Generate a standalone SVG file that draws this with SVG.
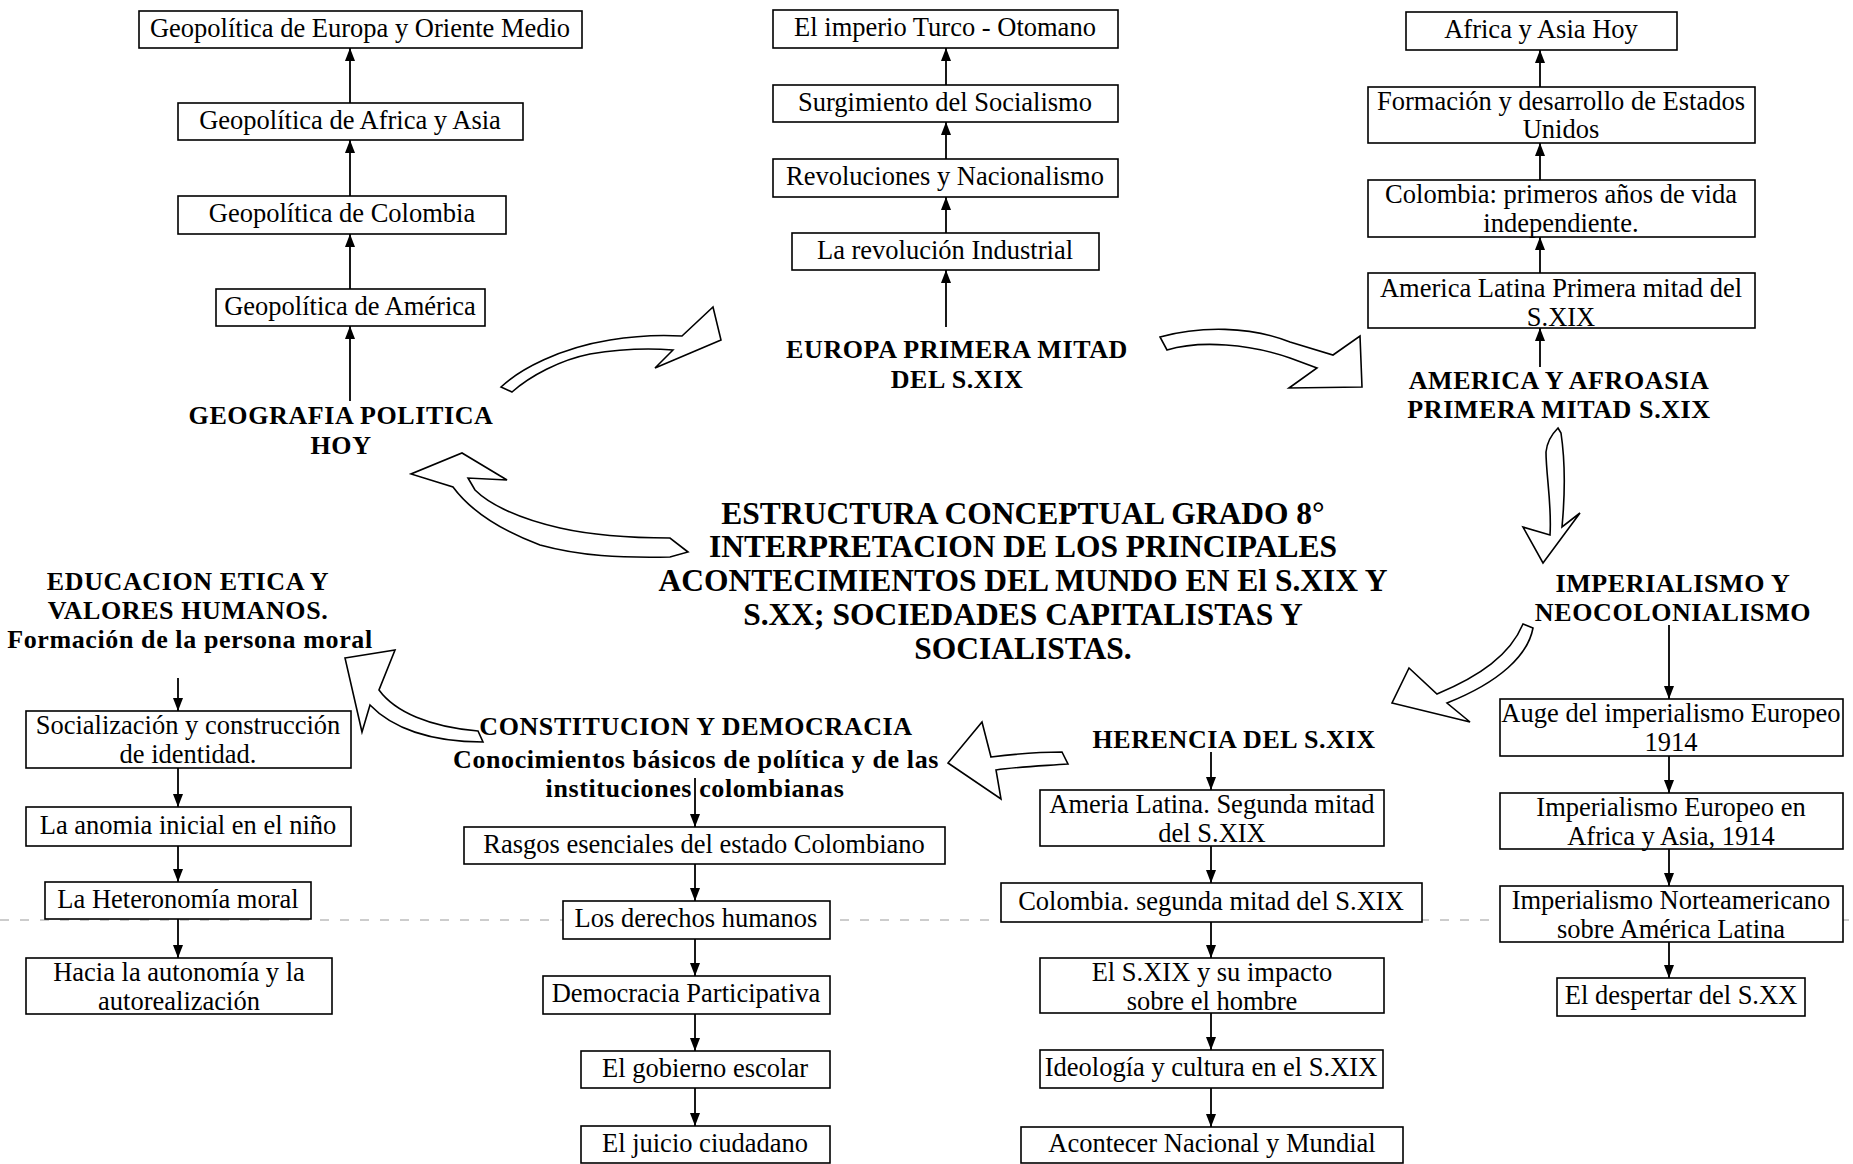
<svg xmlns="http://www.w3.org/2000/svg" width="1853" height="1164" viewBox="0 0 1853 1164">
<defs>
<style>
.box{fill:#fff;stroke:#000;stroke-width:1.6}
.t{font-family:"Liberation Serif","Times New Roman",serif;font-size:26.5px;text-anchor:middle;fill:#000}
.h{font-family:"Liberation Serif","Times New Roman",serif;font-size:26px;font-weight:bold;text-anchor:middle;fill:#000;letter-spacing:0.6px}
.ti{font-family:"Liberation Serif","Times New Roman",serif;font-size:31.5px;font-weight:bold;text-anchor:middle;fill:#000}
.c{stroke:#000;stroke-width:1.8;fill:none;marker-end:url(#ah)}
.blk{fill:#fff;stroke:#000;stroke-width:1.6;stroke-linejoin:miter}
.scan{stroke:#9a9a9a;stroke-width:1;stroke-dasharray:9 11;fill:none}
</style>
<marker id="ah" viewBox="0 0 13 10" refX="13" refY="5" markerWidth="13" markerHeight="10" markerUnits="userSpaceOnUse" orient="auto"><path d="M0,0 L13,5 L0,10 Z" fill="#000"/></marker>
</defs>
<rect width="1853" height="1164" fill="#fff"/>
<line class="scan" x1="0" y1="920" x2="1853" y2="920"/>

<!-- Title -->
<g id="title">
<text class="ti" x="1023" y="524">ESTRUCTURA CONCEPTUAL GRADO 8°</text>
<text class="ti" x="1023" y="557">INTERPRETACION DE LOS PRINCIPALES</text>
<text class="ti" x="1023" y="591">ACONTECIMIENTOS DEL MUNDO EN El S.XIX Y</text>
<text class="ti" x="1023" y="625">S.XX; SOCIEDADES CAPITALISTAS Y</text>
<text class="ti" x="1023" y="659">SOCIALISTAS.</text>
</g>

<!-- Headings -->
<g id="geografia"><text class="h" x="341" y="424">GEOGRAFIA POLITICA</text><text class="h" x="341" y="454">HOY</text></g>
<g id="europa"><text class="h" x="957" y="358">EUROPA PRIMERA MITAD</text><text class="h" x="957" y="388">DEL S.XIX</text></g>
<g id="america"><text class="h" x="1559" y="389">AMERICA Y AFROASIA</text><text class="h" x="1559" y="418">PRIMERA MITAD S.XIX</text></g>
<g id="imperialismo"><text class="h" x="1673" y="592">IMPERIALISMO Y</text><text class="h" x="1673" y="621">NEOCOLONIALISMO</text></g>
<g id="herencia"><text class="h" x="1234" y="748">HERENCIA DEL S.XIX</text></g>
<g id="constitucion"><text class="h" x="696" y="735">CONSTITUCION Y DEMOCRACIA</text><text class="h" x="696" y="768">Conocimientos básicos de política y de las</text><text class="h" x="695" y="797">instituciones colombianas</text></g>
<g id="educacion"><text class="h" x="188" y="590">EDUCACION ETICA Y</text><text class="h" x="188" y="619">VALORES HUMANOS.</text><text class="h" x="190" y="648">Formación de la persona moral</text></g>

<!-- Top-left column -->
<g id="b1"><rect class="box" x="139" y="11" width="443" height="37"/><text class="t" x="360" y="37">Geopolítica de Europa y Oriente Medio</text></g>
<g id="b2"><rect class="box" x="178" y="103" width="345" height="37"/><text class="t" x="350" y="129">Geopolítica de Africa y Asia</text></g>
<g id="b3"><rect class="box" x="178" y="196" width="328" height="38"/><text class="t" x="342" y="222">Geopolítica de Colombia</text></g>
<g id="b4"><rect class="box" x="216" y="289" width="269" height="37"/><text class="t" x="350" y="315">Geopolítica de América</text></g>

<!-- Top-middle column -->
<g id="m1"><rect class="box" x="773" y="10" width="345" height="38"/><text class="t" x="945" y="36">El imperio Turco - Otomano</text></g>
<g id="m2"><rect class="box" x="773" y="85" width="345" height="37"/><text class="t" x="945" y="111">Surgimiento del Socialismo</text></g>
<g id="m3"><rect class="box" x="773" y="159" width="345" height="38"/><text class="t" x="945" y="185">Revoluciones y Nacionalismo</text></g>
<g id="m4"><rect class="box" x="792" y="233" width="307" height="37"/><text class="t" x="945" y="259">La revolución Industrial</text></g>

<!-- Top-right column -->
<g id="r1"><rect class="box" x="1406" y="12" width="271" height="38"/><text class="t" x="1541" y="38">Africa y Asia Hoy</text></g>
<g id="r2"><rect class="box" x="1368" y="87" width="387" height="56"/><text class="t" x="1561" y="110">Formación y desarrollo de Estados</text><text class="t" x="1561" y="138">Unidos</text></g>
<g id="r3"><rect class="box" x="1368" y="180" width="387" height="57"/><text class="t" x="1561" y="203">Colombia: primeros años de vida</text><text class="t" x="1561" y="232">independiente.</text></g>
<g id="r4"><rect class="box" x="1368" y="273" width="387" height="55"/><text class="t" x="1561" y="297">America Latina Primera mitad del</text><text class="t" x="1561" y="326">S.XIX</text></g>

<!-- Right column -->
<g id="i1"><rect class="box" x="1500" y="699" width="343" height="57"/><text class="t" x="1671" y="722">Auge del imperialismo Europeo</text><text class="t" x="1671" y="751">1914</text></g>
<g id="i2"><rect class="box" x="1500" y="793" width="343" height="56"/><text class="t" x="1671" y="816">Imperialismo Europeo en</text><text class="t" x="1671" y="845">Africa y Asia, 1914</text></g>
<g id="i3"><rect class="box" x="1500" y="886" width="343" height="56"/><text class="t" x="1671" y="909">Imperialismo Norteamericano</text><text class="t" x="1671" y="938">sobre América Latina</text></g>
<g id="i4"><rect class="box" x="1557" y="978" width="248" height="38"/><text class="t" x="1681" y="1004">El despertar del S.XX</text></g>

<!-- Herencia column -->
<g id="h1"><rect class="box" x="1040" y="790" width="344" height="56"/><text class="t" x="1212" y="813">Ameria Latina. Segunda mitad</text><text class="t" x="1212" y="842">del S.XIX</text></g>
<g id="h2"><rect class="box" x="1001" y="883" width="421" height="39"/><text class="t" x="1211" y="910">Colombia. segunda mitad del S.XIX</text></g>
<g id="h3"><rect class="box" x="1040" y="958" width="344" height="55"/><text class="t" x="1212" y="981">El S.XIX y su impacto</text><text class="t" x="1212" y="1010">sobre el hombre</text></g>
<g id="h4"><rect class="box" x="1040" y="1050" width="343" height="38"/><text class="t" x="1211" y="1076">Ideología y cultura en el S.XIX</text></g>
<g id="h5"><rect class="box" x="1021" y="1127" width="382" height="36"/><text class="t" x="1212" y="1152">Acontecer Nacional y Mundial</text></g>

<!-- Constitucion column -->
<g id="c1"><rect class="box" x="464" y="827" width="481" height="37"/><text class="t" x="704" y="853">Rasgos esenciales del estado Colombiano</text></g>
<g id="c2"><rect class="box" x="563" y="901" width="267" height="38"/><text class="t" x="696" y="927">Los derechos humanos</text></g>
<g id="c3"><rect class="box" x="543" y="976" width="287" height="38"/><text class="t" x="686" y="1002">Democracia Participativa</text></g>
<g id="c4"><rect class="box" x="581" y="1051" width="249" height="37"/><text class="t" x="705" y="1077">El gobierno escolar</text></g>
<g id="c5"><rect class="box" x="581" y="1126" width="249" height="37"/><text class="t" x="705" y="1152">El juicio ciudadano</text></g>

<!-- Educacion column -->
<g id="e1"><rect class="box" x="26" y="711" width="325" height="57"/><text class="t" x="188" y="734">Socialización y construcción</text><text class="t" x="188" y="763">de identidad.</text></g>
<g id="e2"><rect class="box" x="26" y="807" width="325" height="39"/><text class="t" x="188" y="834">La anomia inicial en el niño</text></g>
<g id="e3"><rect class="box" x="45" y="882" width="266" height="37"/><text class="t" x="178" y="908">La Heteronomía moral</text></g>
<g id="e4"><rect class="box" x="26" y="958" width="306" height="56"/><text class="t" x="179" y="981">Hacia la autonomía y la</text><text class="t" x="179" y="1010">autorealización</text></g>

<!-- Connectors -->
<g id="connectors">
<line class="c" x1="350" y1="401" x2="350" y2="326"/>
<line class="c" x1="350" y1="289" x2="350" y2="234"/>
<line class="c" x1="350" y1="196" x2="350" y2="140"/>
<line class="c" x1="350" y1="103" x2="350" y2="48"/>
<line class="c" x1="946" y1="327" x2="946" y2="270"/>
<line class="c" x1="946" y1="233" x2="946" y2="197"/>
<line class="c" x1="946" y1="159" x2="946" y2="122"/>
<line class="c" x1="946" y1="85" x2="946" y2="48"/>
<line class="c" x1="1540" y1="367" x2="1540" y2="328"/>
<line class="c" x1="1540" y1="273" x2="1540" y2="237"/>
<line class="c" x1="1540" y1="180" x2="1540" y2="143"/>
<line class="c" x1="1540" y1="87" x2="1540" y2="50"/>
<line class="c" x1="1669" y1="625" x2="1669" y2="699"/>
<line class="c" x1="1669" y1="756" x2="1669" y2="793"/>
<line class="c" x1="1669" y1="849" x2="1669" y2="886"/>
<line class="c" x1="1669" y1="942" x2="1669" y2="978"/>
<line class="c" x1="1211" y1="752" x2="1211" y2="790"/>
<line class="c" x1="1211" y1="846" x2="1211" y2="883"/>
<line class="c" x1="1211" y1="922" x2="1211" y2="958"/>
<line class="c" x1="1211" y1="1013" x2="1211" y2="1050"/>
<line class="c" x1="1211" y1="1088" x2="1211" y2="1127"/>
<line class="c" x1="695" y1="778" x2="695" y2="827"/>
<line class="c" x1="695" y1="864" x2="695" y2="901"/>
<line class="c" x1="695" y1="939" x2="695" y2="976"/>
<line class="c" x1="695" y1="1014" x2="695" y2="1051"/>
<line class="c" x1="695" y1="1088" x2="695" y2="1126"/>
<line class="c" x1="178" y1="678" x2="178" y2="711"/>
<line class="c" x1="178" y1="768" x2="178" y2="807"/>
<line class="c" x1="178" y1="846" x2="178" y2="882"/>
<line class="c" x1="178" y1="919" x2="178" y2="958"/>
<!-- block arrows -->
<path class="blk" d="M501,387 C520,369 560,348 610,340 C640,335 665,335 682,336 L713,307 L721,340 L655,368 L673,350 C650,348 620,349 590,354 C560,360 530,376 512,392 Z"/>
<path class="blk" d="M1160,337 C1200,326 1250,326 1290,342 L1333,355 L1360,336 L1362,387 L1289,388 L1317,368 L1290,358 C1250,344 1200,340 1167,350 Z"/>
<path class="blk" d="M1558,428 L1561,433 C1565,460 1565,495 1562,527 L1580,513 L1543,563 L1523,527 L1550,535 C1552,505 1546,475 1546,452 C1547,442 1551,435 1558,428 Z"/>
<path class="blk" d="M1523,624 L1533,628 C1528,655 1500,682 1447,703 L1470,722 L1392,703 L1409,668 L1437,694 C1480,676 1510,655 1523,624 Z"/>
<path class="blk" d="M1062,752 L1068,764 C1040,766 1015,767 996,770 L1001,799 L948,763 L982,722 L991,757 C1015,754 1040,752 1062,752 Z"/>
<path class="blk" d="M688,552 L670,538 C640,538 600,537 560,528 C520,519 490,505 475,490 L468,478 L507,480 L462,453 L411,474 L453,487 C470,510 500,530 540,545 C580,556 620,558 670,557 Z"/>
<path class="blk" d="M345,658 L395,650 L379,690 C395,712 430,727 478,731 L483,742 C430,742 392,728 370,705 L362,732 Z"/>
</g>
</svg>
